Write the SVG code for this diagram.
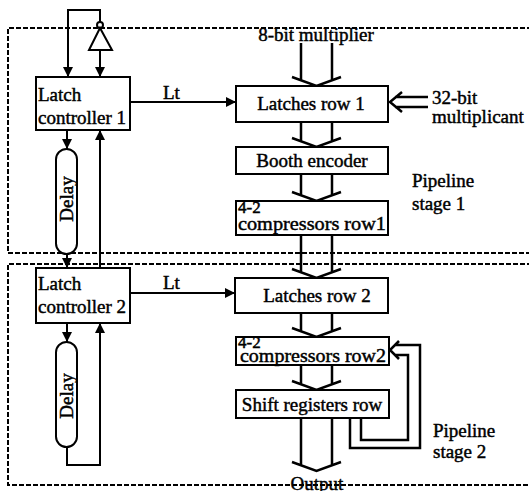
<svg xmlns="http://www.w3.org/2000/svg" width="529" height="491" viewBox="0 0 529 491">
<defs>
<style>
.t{font-family:"Liberation Serif","Times New Roman",serif;font-size:19px;fill:#000;stroke:#000;stroke-width:0.45}
.m{text-anchor:middle}
.s{font-size:17px}
.box{fill:#fff;stroke:#000;stroke-width:2}
.ln{fill:none;stroke:#000;stroke-width:2}
.dl{fill:none;stroke:#000;stroke-width:2.5}
.dash{fill:none;stroke:#000;stroke-width:2;stroke-dasharray:5 2}
</style>
<marker id="ah" markerUnits="userSpaceOnUse" markerWidth="10" markerHeight="10" viewBox="0 0 10 10" refX="10" refY="5" orient="auto">
<path d="M0,0 L10,5 L0,10 z" fill="#000"/>
</marker>
</defs>
<rect width="529" height="491" fill="#fff"/>
<g id="stage1">
<path class="dash" d="M532,28 H8 V253 H532"/>
</g>
<g id="stage2">
<path class="dash" d="M532,264 H8 V485 H532"/>
</g>
<g id="connectors">
<path class="ln" d="M100,22 V10 H68 V77" marker-end="url(#ah)"/>
<line class="ln" x1="100" y1="50" x2="100" y2="77" marker-end="url(#ah)"/>
<line class="ln" x1="130" y1="102" x2="236" y2="102" marker-end="url(#ah)"/>
<line class="ln" x1="130" y1="293" x2="235" y2="293" marker-end="url(#ah)"/>
<line class="ln" x1="67" y1="130" x2="67" y2="149" marker-end="url(#ah)"/>
<line class="ln" x1="67" y1="254" x2="67" y2="268" marker-end="url(#ah)"/>
<line class="ln" x1="100" y1="268" x2="100" y2="130" marker-end="url(#ah)"/>
<line class="ln" x1="67" y1="323" x2="67" y2="342" marker-end="url(#ah)"/>
<path class="ln" d="M67,447 V465 H100 V323" marker-end="url(#ah)"/>
<path class="dl" d="M301,43 V80 M332,43 V80 M292,77 L316.5,86 L341,77"/>
<path class="dl" d="M301,122 V141 M332,122 V141 M292,138 L316.5,147 L341,138"/>
<path class="dl" d="M301,174 V195 M332,174 V195 M292,192 L316.5,201 L341,192"/>
<path class="dl" d="M301,235 V272 M332,235 V272 M292,269 L316.5,278 L341,269"/>
<path class="dl" d="M301,313 V331 M332,313 V331 M292,328 L316.5,337 L341,328"/>
<path class="dl" d="M301,365 V384 M332,365 V384 M292,381 L316.5,390 L341,381"/>
<path class="dl" d="M301,418 V465 M332,418 V465 M292,462 L316.5,471 L341,462"/>
<path class="dl" d="M428,97 H395 M428,107 H395 M402,92 L390,102 L402,112"/>
<path class="dl" d="M350,418 V448 H420 V345 H395 M361,418 V440 H408 V355 H395 M399,341 L390,350 L399,359"/>
</g>
<g id="inverter">
<circle cx="100" cy="25" r="3" fill="#fff" stroke="#000" stroke-width="2"/>
<path d="M100,28 L89,50 L112,50 z" fill="#fff" stroke="#000" stroke-width="2"/>
</g>
<g id="latch-controller-1">
<rect class="box" x="36" y="77" width="94" height="53"/>
<text class="t" x="38" y="101">Latch</text>
<text class="t" x="38" y="124">controller 1</text>
</g>
<g id="latch-controller-2">
<rect class="box" x="36" y="268" width="94" height="55"/>
<text class="t" x="38" y="290">Latch</text>
<text class="t" x="38" y="313">controller 2</text>
</g>
<g id="delay-1">
<rect class="box" x="56" y="149" width="21" height="105" rx="10.5"/>
<text class="t m" transform="translate(72.5,199) rotate(-90)">Delay</text>
</g>
<g id="delay-2">
<rect class="box" x="56" y="342" width="21" height="105" rx="10.5"/>
<text class="t m" transform="translate(72.5,396) rotate(-90)">Delay</text>
</g>
<g id="latches-row-1">
<rect class="box" x="236" y="86" width="152" height="36"/>
<text class="t m" x="311" y="110">Latches row 1</text>
</g>
<g id="booth-encoder">
<rect class="box" x="236" y="147" width="152" height="27"/>
<text class="t m" x="312" y="167">Booth encoder</text>
</g>
<g id="compressors-row1">
<rect class="box" x="236" y="201" width="152" height="34"/>
<text class="t s" x="238" y="213">4-2</text>
<text class="t" x="238" y="230" textLength="148" lengthAdjust="spacingAndGlyphs">compressors row1</text>
</g>
<g id="latches-row-2">
<rect class="box" x="235" y="278" width="153" height="35"/>
<text class="t m" x="317" y="302">Latches row 2</text>
</g>
<g id="compressors-row2">
<rect class="box" x="236" y="337" width="153" height="28"/>
<text class="t s" x="238" y="348">4-2</text>
<text class="t" x="240" y="362" textLength="146" lengthAdjust="spacingAndGlyphs">compressors row2</text>
</g>
<g id="shift-registers-row">
<rect class="box" x="236" y="390" width="153" height="28"/>
<text class="t m" x="312" y="411">Shift registers row</text>
</g>
<g id="labels">
<text class="t m" x="316" y="41">8-bit multiplier</text>
<text class="t" x="163" y="99">Lt</text>
<text class="t" x="163" y="289">Lt</text>
<text class="t" x="432" y="104">32-bit</text>
<text class="t" x="432" y="123">multiplicant</text>
<text class="t" x="412" y="187">Pipeline</text>
<text class="t" x="412" y="210">stage 1</text>
<text class="t" x="433" y="437">Pipeline</text>
<text class="t" x="433" y="458">stage 2</text>
<text class="t m" x="317" y="490">Output</text>
</g>
</svg>
